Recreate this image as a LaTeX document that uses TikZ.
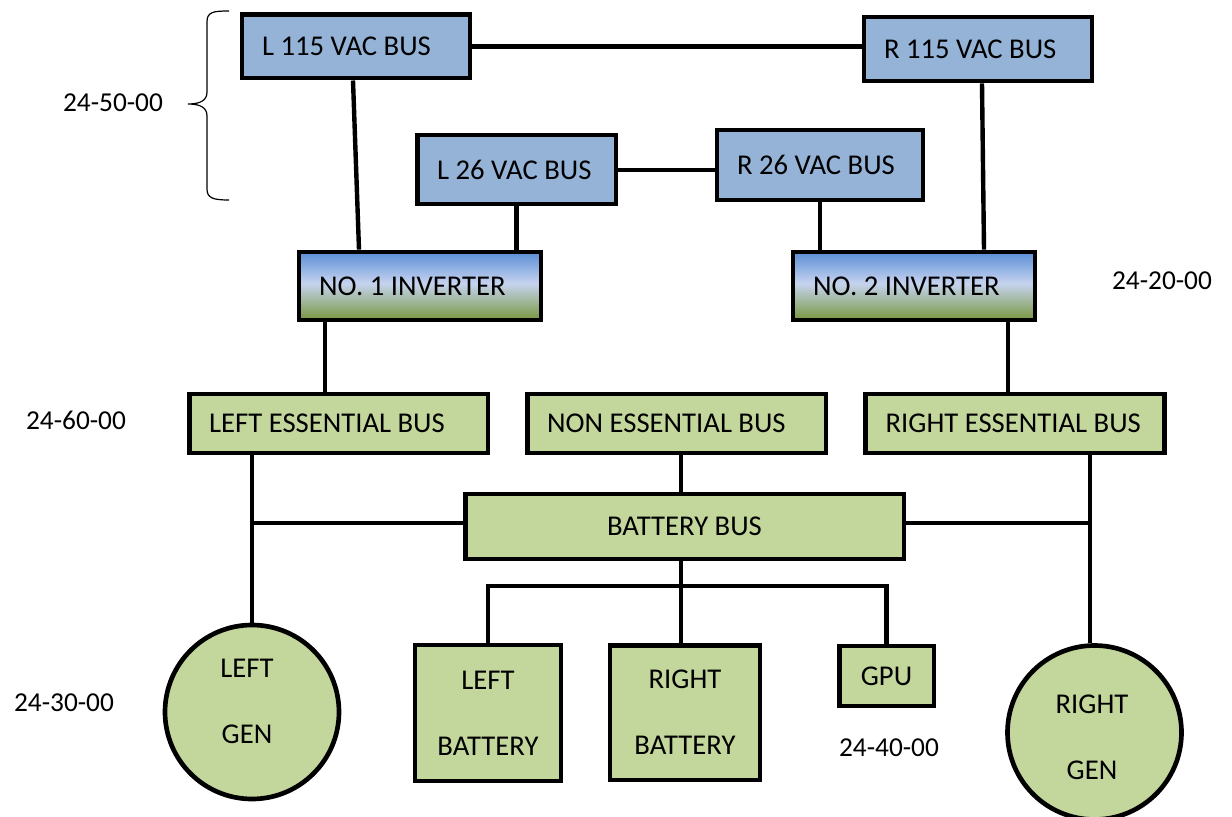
\documentclass[tikz,border=0pt]{standalone}
\usepackage{fontspec}
\setmainfont{Carlito}
\usetikzlibrary{calc}
\definecolor{busblue}{HTML}{95B3D7}
\definecolor{busgreen}{HTML}{C3D69B}
\definecolor{invtop}{HTML}{5A8ED6}
\definecolor{invmid}{HTML}{C6D3EF}
\definecolor{invbot}{HTML}{78973F}
\pgfdeclareverticalshading{invshade}{100bp}{color(0bp)=(invbot); color(25bp)=(invbot); color(52bp)=(invmid); color(75bp)=(invtop); color(100bp)=(invtop)}
\newcommand{\lt}[2]{\makebox[#1][l]{#2}}
\tikzset{
  bx/.style={draw=black, line width=3.5pt, inner sep=0pt, align=center,
    font=\fontsize{21.5}{25}\selectfont},
  lefttext/.style={inner xsep=15pt},
  bluebox/.style={bx, fill=busblue},
  greenbox/.style={bx, fill=busgreen},
  invbox/.style={bx, shade, shading=invshade},
  gen/.style={draw=black, line width=3.5pt, circle, fill=busgreen, inner sep=0pt, minimum size=130.5pt},
  txt/.style={inner sep=0pt, font=\fontsize{20.5}{24}\selectfont},
  bigtxt/.style={inner sep=0pt, font=\fontsize{21.5}{25}\selectfont},
  wire/.style={line width=3.3pt},
  twoline/.style={font=\fontsize{21.5}{49.5}\selectfont}
}
\begin{document}
\begin{tikzpicture}[x=0.75pt,y=-0.75pt]
\useasboundingbox (0,0) rectangle (1232,817);
% nodes
\node[bluebox, lefttext, minimum width=171pt, minimum height=47.5pt] (l115) at (356,46.5) {\lt{141pt}{L 115 VAC BUS}};
\node[bluebox, lefttext, minimum width=171pt, minimum height=48pt] (r115) at (978,49) {\lt{141pt}{R 115 VAC BUS}};
\node[bluebox, lefttext, minimum width=149pt, minimum height=51.75pt] (l26) at (516.5,169.5) {\lt{119pt}{L 26 VAC BUS}};
\node[bluebox, lefttext, minimum width=154.5pt, minimum height=52.5pt] (r26) at (820,165) {\lt{124.5pt}{R 26 VAC BUS}};
\node[invbox, lefttext, minimum width=181.5pt, minimum height=51pt] (inv1) at (420,286) {\lt{151.5pt}{NO. 1 INVERTER}};
\node[invbox, lefttext, minimum width=181.5pt, minimum height=51pt] (inv2) at (914,286) {\lt{151.5pt}{NO. 2 INVERTER}};
\node[greenbox, lefttext, minimum width=224pt, minimum height=44.25pt] (less) at (338.5,423.5) {\lt{194pt}{LEFT ESSENTIAL BUS}};
\node[greenbox, lefttext, minimum width=224pt, minimum height=44.25pt] (ness) at (676.5,423.5) {\lt{194pt}{NON ESSENTIAL BUS}};
\node[greenbox, lefttext, minimum width=224pt, minimum height=44.25pt] (ress) at (1015,423.5) {\lt{194pt}{RIGHT ESSENTIAL BUS}};
\node[greenbox, minimum width=329pt, minimum height=48.75pt] (bat) at (684.5,526.5) {BATTERY BUS};
\node[greenbox, twoline, minimum width=109.5pt, minimum height=102pt] (lbat) at (488,713) {LEFT\\BATTERY};
\node[greenbox, twoline, minimum width=112.5pt, minimum height=101pt] (rbat) at (685,712.5) {RIGHT\\BATTERY};
\node[greenbox, minimum width=71pt, minimum height=45pt] (gpu) at (886.5,676) {GPU};
\node[gen] (lgen) at (252,712) {};
\node[bigtxt, twoline, align=center] (lgent) at (247,701) {LEFT\\GEN};
\node[gen] (rgen) at (1094.5,732.5) {};
\node[bigtxt, twoline, align=center] (rgent) at (1092,737) {RIGHT\\GEN};
% labels
\node[txt] (a50) at (113,103) {24-50-00};
\node[txt] (a20) at (1162,281) {24-20-00};
\node[txt] (a60) at (76,420) {24-60-00};
\node[txt] (a30) at (64,703) {24-30-00};
\node[txt] (a40) at (889,748) {24-40-00};
% brace
\draw[line width=0.9pt] (229,11) .. controls (213,11) and (207,12) .. (207,22) -- (207,92)
  .. controls (207,100) and (201,104) .. (188,104)
  .. controls (201,104) and (207,108) .. (207,116) -- (207,189)
  .. controls (207,198) and (213,200) .. (229,200);
% columns
\coordinate (c325) at (325,0);
\coordinate (c1008) at (1008,0);
\coordinate (c681) at (681,0);
\coordinate (c1090) at (1090,0);
\coordinate (r523) at (0,523);
\coordinate (r170) at (0,170);
\coordinate (split) at (681,586);
% connectors
\draw[wire] (l115.east) -- (r115.west |- l115.east);
\draw[wire] (l26.east |- r170) -- (r26.west |- r170);
\draw[wire] ($(l115.south)+(-3,0)$) -- ($(inv1.north)+(-61,0)$);
\draw[wire] ($(r115.south)+(4,0)$) -- ($(inv2.north)+(70,0)$);
\draw[wire] (l26.south) -- (l26.south |- inv1.north);
\draw[wire] (r26.south) -- (r26.south |- inv2.north);
\draw[wire] (inv1.south -| c325) -- (less.north -| c325);
\draw[wire] (inv2.south -| c1008) -- (ress.north -| c1008);
\draw[wire] (ness.south -| c681) -- (bat.north -| c681);
\draw[wire] (less.south -| lgen) -- (lgen.north);
\draw[wire] (lgen.north |- r523) -- (bat.west |- r523);
\draw[wire] (ress.south -| c1090) -- (rgen.north -| c1090);
\draw[wire] (bat.east |- r523) -- (c1090 |- r523);
\draw[wire] (bat.south -| c681) -- (rbat.north -| c681);
\draw[wire] (lbat.north) |- (split) -| (gpu.north);
\end{tikzpicture}
\end{document}
